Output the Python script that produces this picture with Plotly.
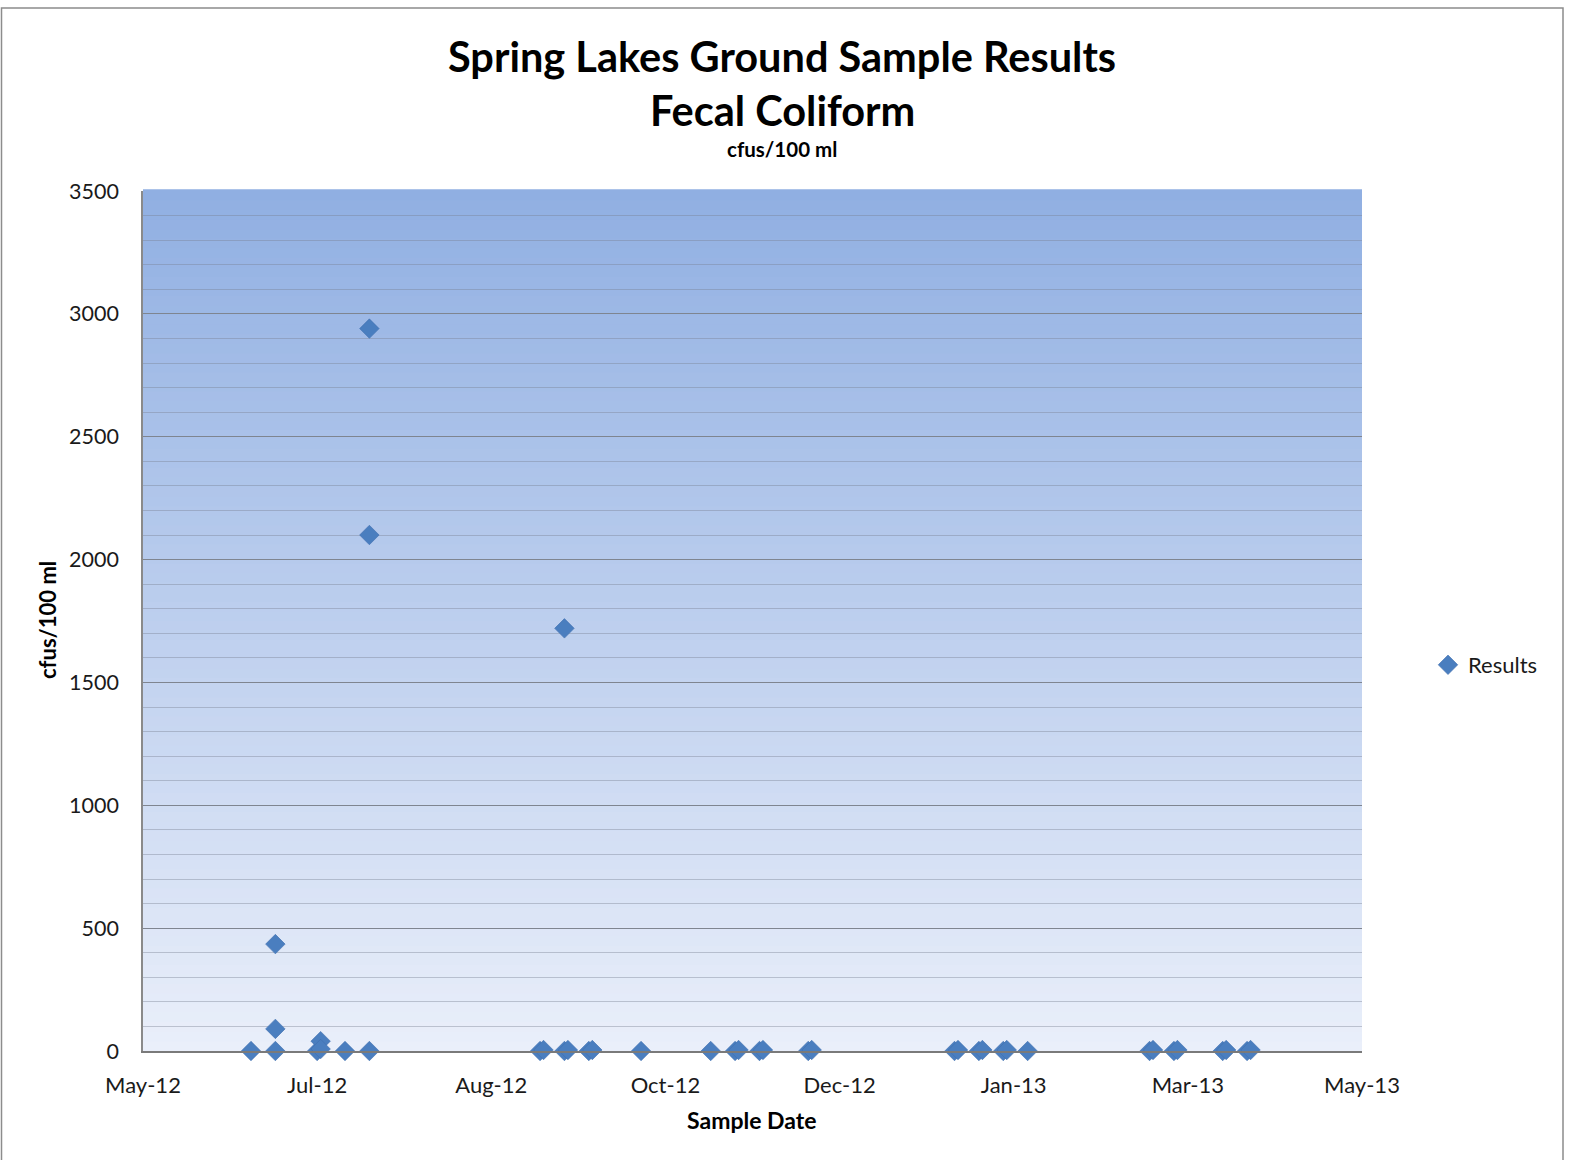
import plotly.graph_objects as go

# Fecal coliform sample results (cfus/100 ml) by sample date
sample_dates = [
    "2012-06-21", "2012-06-28", "2012-06-28", "2012-06-28",
    "2012-07-10", "2012-07-11", "2012-07-11", "2012-07-18",
    "2012-07-25", "2012-07-25", "2012-07-25",
    "2012-09-12", "2012-09-13", "2012-09-19", "2012-09-19", "2012-09-20",
    "2012-09-26", "2012-09-27", "2012-10-11",
    "2012-10-31", "2012-11-07", "2012-11-08", "2012-11-14", "2012-11-15",
    "2012-11-28", "2012-11-29",
    "2013-01-09", "2013-01-10", "2013-01-16", "2013-01-17",
    "2013-01-23", "2013-01-24", "2013-01-30",
    "2013-03-06", "2013-03-07", "2013-03-13", "2013-03-14",
    "2013-03-27", "2013-03-28", "2013-04-03", "2013-04-04",
]
fecal_coliform = [
    0, 0, 90, 435,
    0, 40, 8, 0,
    0, 2100, 2940,
    0, 4, 0, 1720, 4,
    0, 4, 0,
    0, 0, 4, 0, 4,
    0, 4,
    0, 4, 0, 4,
    0, 4, 0,
    0, 4, 0, 4,
    0, 4, 0, 4,
]

tick_dates = ["2012-05-21", "2012-07-10", "2012-08-29", "2012-10-18",
              "2012-12-07", "2013-01-26", "2013-03-17", "2013-05-06"]
tick_labels = ["May-12", "Jul-12", "Aug-12", "Oct-12",
               "Dec-12", "Jan-13", "Mar-13", "May-13"]
y_ticks = [0, 500, 1000, 1500, 2000, 2500, 3000, 3500]

FONT = "Lato"
W, H = 1571, 1160
PL, PR, PT, PB = 143, 1362, 191, 1051  # plot area edges in pixels


def fx(px):
    """pixel column -> paper x (paper spans the plot area)"""
    return (px - PL) / (PR - PL)


def fy(py):
    """pixel row -> paper y"""
    return (PB - py) / (PB - PT)


fig = go.Figure()
fig.add_trace(go.Scatter(
    x=sample_dates, y=fecal_coliform, mode="markers", name="Results",
    cliponaxis=False,
    marker=dict(symbol="diamond", size=15, color="#4a7ebf",
                line=dict(width=0.6, color="#3f6fae")),
))

# vertical gradient fill of the plot area
top = (144, 175, 226)
bottom = (234, 239, 250)
n_bands = 90
shapes = []
for i in range(n_bands):
    t = (i + 0.5) / n_bands
    c = tuple(round(bottom[k] + (top[k] - bottom[k]) * t) for k in range(3))
    shapes.append(dict(type="rect", xref="x domain", yref="y domain",
                       x0=0, x1=1, y0=i / n_bands, y1=(i + 1) / n_bands + 0.002,
                       fillcolor="rgb(%d,%d,%d)" % c, line=dict(width=0),
                       layer="below"))
# chart frame
shapes.append(dict(type="rect", xref="paper", yref="paper",
                   x0=fx(1.5), x1=fx(1563), y0=fy(1175), y1=fy(8),
                   line=dict(color="#8c8c8c", width=1.5),
                   fillcolor="rgba(0,0,0,0)", layer="below"))

annotations = [
    dict(text="<b>Spring Lakes Ground Sample Results</b>", x=fx(782), y=fy(56),
         font=dict(size=41.5, color="#000000", family=FONT)),
    dict(text="<b>Fecal Coliform</b>", x=fx(782), y=fy(110),
         font=dict(size=41.5, color="#000000", family=FONT)),
    dict(text="<b>cfus/100 ml</b>", x=fx(782), y=fy(149),
         font=dict(size=20.5, color="#000000", family=FONT)),
    dict(text="<b>Sample Date</b>", x=fx(752), y=fy(1120),
         font=dict(size=23, color="#000000", family=FONT)),
    dict(text="<b>cfus/100 ml</b>", x=fx(47), y=fy(620), textangle=-90,
         font=dict(size=22, color="#000000", family=FONT)),
]
for a in annotations:
    a.update(xref="paper", yref="paper", showarrow=False,
             xanchor="center", yanchor="middle")

fig.update_layout(
    width=W, height=H,
    margin=dict(l=PL, r=W - PR, t=PT, b=H - PB),
    paper_bgcolor="white", plot_bgcolor="rgba(0,0,0,0)",
    font=dict(family=FONT, size=22, color="#1a1a1a"),
    shapes=shapes, annotations=annotations,
    showlegend=True,
    legend=dict(x=fx(1428), y=fy(665), xanchor="left", yanchor="middle",
                font=dict(size=22, color="#1a1a1a", family=FONT),
                bgcolor="rgba(0,0,0,0)", itemwidth=30),
)
fig.update_xaxes(
    type="date", range=[tick_dates[0], tick_dates[-1]],
    tickmode="array", tickvals=tick_dates, ticktext=tick_labels,
    showgrid=False, zeroline=False, showline=True,
    linecolor="#7a7a7a", linewidth=1.5, ticks="", ticklabelstandoff=14,
    tickfont=dict(size=22, family=FONT, color="#1a1a1a"),
)
fig.update_yaxes(
    range=[0, 3500], tickmode="array", tickvals=y_ticks,
    showgrid=True, gridcolor="#7f8590", gridwidth=1.3,
    minor=dict(dtick=100, showgrid=True, gridcolor="rgba(120,128,145,0.4)",
               gridwidth=1),
    zeroline=False, showline=True, linecolor="#8a8a8a", linewidth=1.5,
    ticks="", ticklabelstandoff=18,
    tickfont=dict(size=21.5, family=FONT, color="#1a1a1a"),
)

fig.write_html("out.html")
